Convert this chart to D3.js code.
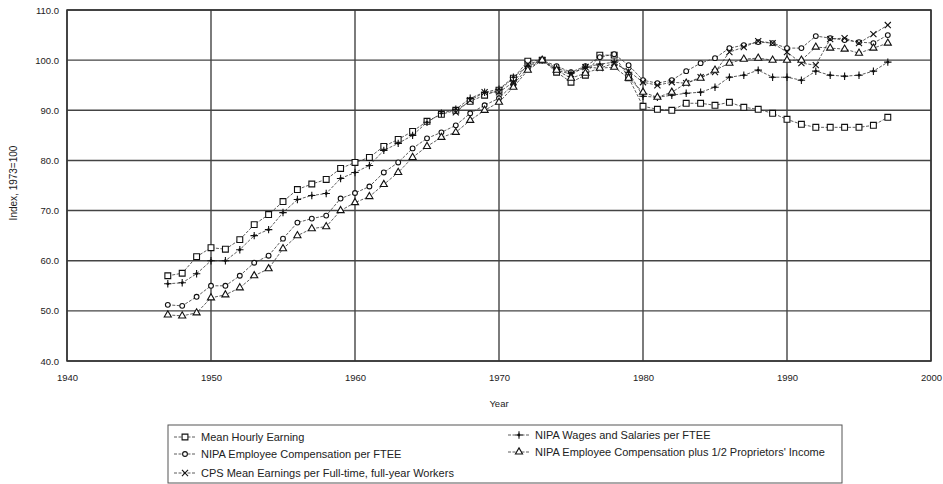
<!DOCTYPE html>
<html>
<head>
<meta charset="utf-8">
<script src="https://cdn.jsdelivr.net/npm/d3@7"></script>
<style>
  body { margin: 0; background: #fff; }
  svg { font-family: "Liberation Sans", Arial, sans-serif; }
</style>
</head>
<body>
<div id="chart"></div>
<script>
// 1: DATA (index 1973=100)
const years = d3.range(1947, 1998);

const meanHourly = [57.0, 57.5, 60.8, 62.6, 62.3, 64.2, 67.2, 69.2, 71.8, 74.2,
  75.3, 76.2, 78.4, 79.6, 80.6, 82.8, 84.2, 85.8, 87.8, 89.2,
  90.0, 91.8, 93.0, 94.0, 96.4, 99.8, 100.0, 97.6, 95.6, 97.0,
  101.0, 101.0, 96.5, 90.8, 90.2, 90.0, 91.4, 91.4, 91.0, 91.6,
  90.6, 90.2, 89.4, 88.2, 87.2, 86.6, 86.6, 86.6, 86.6, 87.0, 88.6];

const nipaComp = [51.2, 51.0, 52.8, 55.0, 55.0, 57.0, 59.6, 61.0, 64.4, 67.6,
  68.4, 69.0, 72.4, 73.5, 74.8, 77.6, 79.6, 82.4, 84.4, 85.6,
  87.0, 89.4, 91.0, 92.4, 95.2, 98.4, 100.0, 98.8, 97.6, 98.8,
  100.6, 101.2, 99.0, 96.0, 95.4, 96.0, 97.8, 99.4, 100.4, 102.4,
  103.0, 103.6, 103.4, 102.4, 102.4, 104.8, 104.4, 104.0, 103.6, 103.4, 105.0];

const cpsYears = d3.range(1967, 1998);
const cpsEarnings = [89.6, 92.0, 93.6, 93.6, 95.6, 99.2, 100.0, 98.0, 97.2, 98.6,
  98.4, 99.4, 97.8, 95.6, 95.0, 95.6, 95.4, 96.6, 97.6, 101.6,
  102.6, 103.8, 103.4, 101.6, 99.4, 99.0, 104.2, 104.4, 103.4, 105.2, 107.0];

const nipaWages = [55.4, 55.6, 57.4, 60.0, 60.0, 62.2, 65.0, 66.2, 69.6, 72.2,
  73.0, 73.4, 76.4, 77.6, 79.0, 82.0, 83.4, 85.0, 87.6, 89.4,
  90.2, 92.4, 93.6, 94.2, 96.6, 98.8, 100.0, 98.4, 97.4, 98.6,
  99.2, 99.6, 97.6, 92.8, 92.6, 93.0, 93.4, 93.6, 94.6, 96.6,
  97.0, 98.0, 96.6, 96.6, 96.0, 97.8, 97.0, 96.8, 97.0, 97.8, 99.6];

const nipaCompProp = [49.2, 49.0, 49.6, 52.6, 53.2, 54.6, 57.0, 58.4, 62.4, 65.0,
  66.4, 66.8, 70.0, 71.6, 72.8, 75.2, 77.6, 80.6, 82.8, 84.6,
  85.6, 88.0, 90.0, 91.6, 94.6, 98.0, 100.0, 98.0, 96.4, 97.4,
  98.4, 98.6, 96.4, 93.6, 92.6, 93.6, 95.4, 96.4, 98.0, 99.4,
  100.2, 100.4, 100.0, 100.0, 100.0, 102.6, 102.4, 102.2, 101.4, 102.4, 103.4];

const yTicks = [40, 50, 60, 70, 80, 90, 100, 110];
const xTicks = [1940, 1950, 1960, 1970, 1980, 1990, 2000];

const series = [
  { name: "Mean Hourly Earning", years: years, values: meanHourly, symbol: "square" },
  { name: "NIPA Employee Compensation per FTEE", years: years, values: nipaComp, symbol: "circle" },
  { name: "CPS Mean Earnings per Full-time, full-year Workers", years: cpsYears, values: cpsEarnings, symbol: "x" },
  { name: "NIPA Wages and Salaries per FTEE", years: years, values: nipaWages, symbol: "plus" },
  { name: "NIPA Employee Compensation plus 1/2 Proprietors' Income", years: years, values: nipaCompProp, symbol: "triangle" }
];

// 2: SVG
const W = 943, H = 484;
const margin = { top: 10, right: 12, bottom: 123, left: 67 };
const width = W - margin.left - margin.right;
const height = H - margin.top - margin.bottom;

const svg = d3.select("#chart").append("svg")
  .attr("width", W)
  .attr("height", H);

const g = svg.append("g")
  .attr("transform", `translate(${margin.left},${margin.top})`);

// 3: SCALES
const x = d3.scaleLinear().domain([1940, 2000]).range([0, width]);
const y = d3.scaleLinear().domain([40, 110]).range([height, 0]);

// 4: GRID
g.selectAll(".hgrid")
  .data(yTicks)
  .enter().append("line")
    .attr("x1", 0).attr("x2", width)
    .attr("y1", d => y(d)).attr("y2", d => y(d))
    .attr("stroke", "#444")
    .attr("stroke-width", 1.4);

g.selectAll(".vgrid")
  .data(xTicks)
  .enter().append("line")
    .attr("y1", 0).attr("y2", height)
    .attr("x1", d => x(d)).attr("x2", d => x(d))
    .attr("stroke", "#444")
    .attr("stroke-width", 1.4);

// 5: AXES
const yAxis = g.append("g")
  .call(d3.axisLeft(y).tickValues(yTicks).tickFormat(d3.format(".1f")).tickSize(0).tickPadding(8));
yAxis.select(".domain").remove();
yAxis.selectAll("text").style("font-size", "9.5px").attr("fill", "#222");

const xAxis = g.append("g")
  .attr("transform", `translate(0,${height})`)
  .call(d3.axisBottom(x).tickValues(xTicks).tickFormat(d3.format("d")).tickSize(0).tickPadding(13));
xAxis.select(".domain").remove();
xAxis.selectAll("text").style("font-size", "9.5px").attr("fill", "#222");

g.append("text")
  .attr("x", x(1970))
  .attr("y", height + 46)
  .attr("text-anchor", "middle")
  .style("font-size", "9.5px")
  .attr("fill", "#222")
  .text("Year");

g.append("text")
  .attr("transform", "rotate(-90)")
  .attr("x", -y(75.5))
  .attr("y", -50)
  .attr("text-anchor", "middle")
  .style("font-size", "10px")
  .attr("fill", "#222")
  .text("Index, 1973=100");

// 6: LINES AND MARKERS
const line = d3.line()
  .x(d => x(d[0]))
  .y(d => y(d[1]));

const symbolTypes = {
  square: d3.symbolSquare,
  circle: d3.symbolCircle,
  triangle: d3.symbolTriangle,
  x: d3.symbolX || d3.symbolCross,
  plus: d3.symbolPlus || d3.symbolCross
};
const symbolSizes = { square: 34, circle: 18, triangle: 22, x: 26, plus: 20 };

function drawMarker(sel, kind) {
  sel.append("path")
    .attr("d", d3.symbol().type(symbolTypes[kind]).size(symbolSizes[kind]))
    .attr("fill", kind === "plus" ? "#111" : "#fff")
    .attr("stroke", "#111")
    .attr("stroke-width", 1.1);
  if (kind === "plus") {
    sel.append("circle").attr("r", 1.4).attr("fill", "#111");
  }
}

series.forEach(s => {
  const pts = s.years.map((yr, i) => [yr, s.values[i]]);
  g.append("path")
    .datum(pts)
    .attr("d", line)
    .attr("fill", "none")
    .attr("stroke", "#333")
    .attr("stroke-width", 0.8)
    .attr("stroke-dasharray", "3,1.5");
});

series.forEach(s => {
  const pts = s.years.map((yr, i) => [yr, s.values[i]]);
  g.selectAll(null)
    .data(pts)
    .enter().append("g")
      .attr("transform", d => `translate(${x(d[0])},${y(d[1])})`)
      .each(function () { drawMarker(d3.select(this), s.symbol); });
});

// frame
g.append("rect")
  .attr("width", width).attr("height", height)
  .attr("fill", "none")
  .attr("stroke", "#333")
  .attr("stroke-width", 1.5);

// 7: LEGEND
const legend = svg.append("g").attr("transform", "translate(168,425)");
legend.append("rect")
  .attr("width", 674).attr("height", 58)
  .attr("fill", "#fff")
  .attr("stroke", "#555")
  .attr("stroke-width", 1);

const legendPos = [[6, 12], [6, 29], [6, 48], [340, 10], [340, 27]];
series.forEach((s, i) => {
  const item = legend.append("g").attr("transform", `translate(${legendPos[i][0]},${legendPos[i][1]})`);
  item.append("line")
    .attr("x1", 0).attr("x2", 22)
    .attr("stroke", "#333")
    .attr("stroke-width", 0.8)
    .attr("stroke-dasharray", "3,1.5");
  const m = item.append("g").attr("transform", "translate(11,0)");
  drawMarker(m, s.symbol);
  item.append("text")
    .attr("x", 27)
    .attr("y", 4)
    .style("font-size", "11px")
    .attr("fill", "#222")
    .text(s.name);
});
</script>
</body>
</html>
